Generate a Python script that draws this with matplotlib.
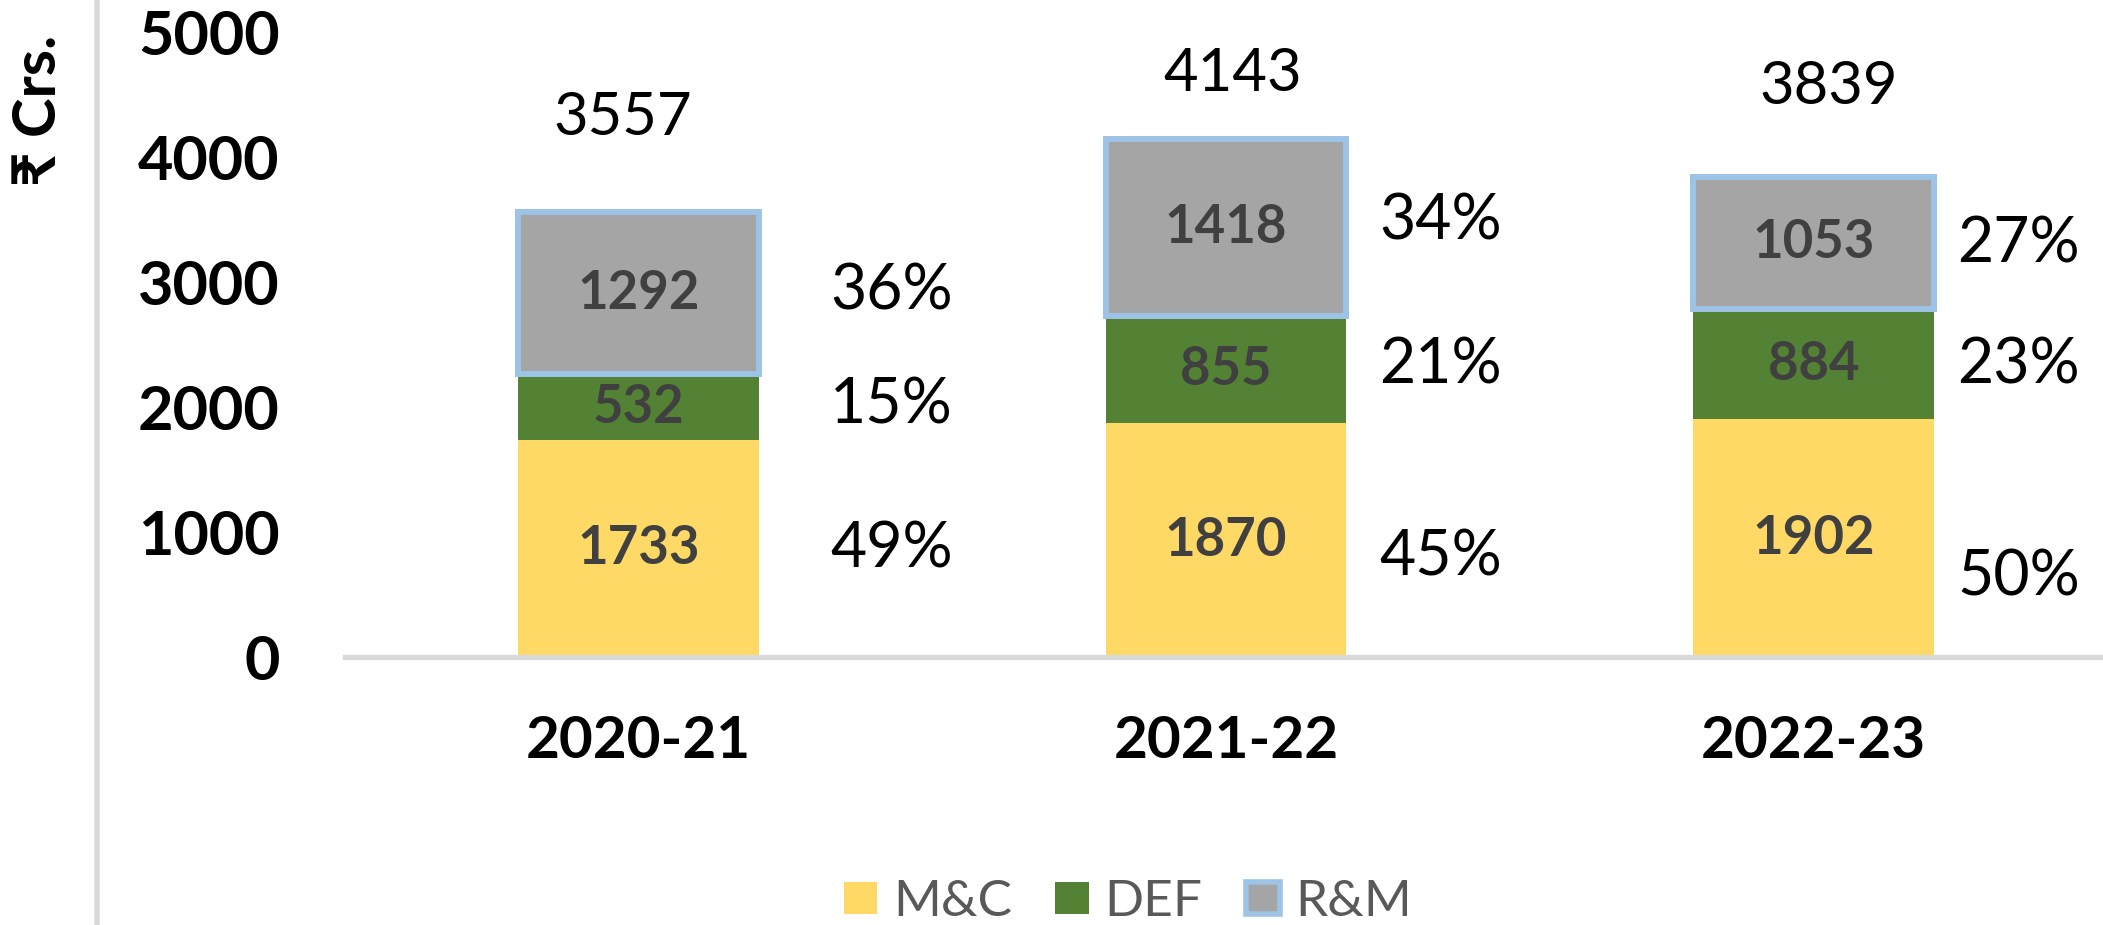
import matplotlib
matplotlib.use("Agg")
import matplotlib.pyplot as plt
from matplotlib.patches import Patch
from matplotlib.lines import Line2D
import numpy as np

plt.rcParams['font.family'] = ['Lato', 'DejaVu Sans']

# data
years = ["2020-21", "2021-22", "2022-23"]
mc = [1733, 1870, 1902]
defc = [532, 855, 884]
rm = [1292, 1418, 1053]
totals = [3557, 4143, 3839]
pct_mc = [49, 45, 50]
pct_def = [15, 21, 23]
pct_rm = [36, 34, 27]

# colours
c_mc = "#FFD966"
c_def = "#548235"
c_rm = "#A5A5A5"
c_edge = "#9DC3E6"
c_axis = "#D9D9D9"

# hand placed text boxes in the original (offsets from bar centre / segment middle)
pct_dx = [0.43, 0.365, 0.35]
pct_dy = [[-10, 9, 17], [-135, 31, 46], [-311, -15, -16]]
tot_dx = [-0.027, 0.012, 0.027]
tot_dy = [755, 521, 721]

fig = plt.figure(figsize=(21.03, 9.25), dpi=100)
ax = fig.add_axes([345 / 2103, 268 / 925, 1762 / 2103, 625 / 925])

x = np.arange(len(years))
w = 0.41
ax.bar(x, mc, w, color=c_mc, label="M&C")
bottom2 = np.array(mc)
ax.bar(x, defc, w, bottom=bottom2, color=c_def, label="DEF")
bottom3 = bottom2 + np.array(defc)
ax.bar(x, rm, w, bottom=bottom3, color=c_rm, edgecolor=c_edge,
       linewidth=4.3, label="R&M")

# values inside the segments
for i in range(len(years)):
    segs = [(0, mc[i]), (bottom2[i], defc[i]), (bottom3[i], rm[i])]
    pcts = [pct_mc[i], pct_def[i], pct_rm[i]]
    for k, (b, h) in enumerate(segs):
        ax.text(x[i], b + h / 2, str(h), ha="center", va="center",
                fontsize=38, fontweight="bold", color="#404040")
        ax.text(x[i] + pct_dx[i], b + h / 2 + pct_dy[i][k], f"{pcts[k]}%",
                ha="center", va="center", fontsize=45, color="black")
    ax.text(x[i] + tot_dx[i], totals[i] + tot_dy[i], str(totals[i]),
            ha="center", va="center", fontsize=43, color="black")

ax.set_xlim(-0.5, 2.5)
ax.set_ylim(0, 5000)
ax.set_yticks([0, 1000, 2000, 3000, 4000, 5000])
ax.set_xticks(x)
ax.set_xticklabels(years)
for lab in ax.get_xticklabels():
    lab.set_fontweight("bold")
    lab.set_fontsize(42)
for lab in ax.get_yticklabels():
    lab.set_fontweight("bold")
    lab.set_fontsize(44)
ax.tick_params(axis="y", length=0, pad=47)
ax.tick_params(axis="x", length=0, pad=42)

for s in ["top", "right", "left"]:
    ax.spines[s].set_visible(False)
ax.spines["bottom"].set_color(c_axis)
ax.spines["bottom"].set_linewidth(3.8)

# y label and the grey rule on the left
fig.text(39 / 2103, 1 - 110 / 925, "₹ Crs.", rotation=90, ha="center",
         va="center", fontsize=43, fontweight="bold")
fig.add_artist(Line2D([97 / 2103, 97 / 2103], [0, 1], color=c_axis,
                      linewidth=4, transform=fig.transFigure))

handles = [Patch(facecolor=c_mc, label="M&C"),
           Patch(facecolor=c_def, label="DEF"),
           Patch(facecolor=c_rm, edgecolor=c_edge, linewidth=4, label="R&M")]
leg = fig.legend(handles=handles, loc="center", ncol=3, frameon=False,
                 bbox_to_anchor=(1128 / 2103, 23 / 925), fontsize=37,
                 handlelength=0.66, handleheight=0.6, handletextpad=0.3,
                 columnspacing=0.85)
for t in leg.get_texts():
    t.set_color("#595959")

fig.savefig("out.png", dpi=100)
